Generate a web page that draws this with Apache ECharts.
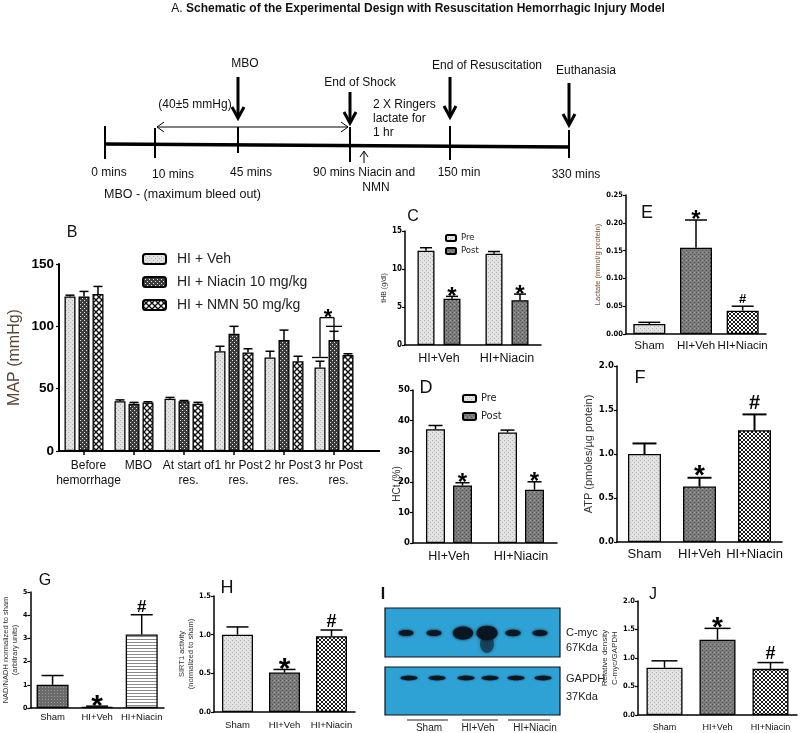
<!DOCTYPE html>
<html><head><meta charset="utf-8">
<script src="https://cdn.jsdelivr.net/npm/echarts@6/dist/echarts.min.js"></script>
<style>html,body{margin:0;padding:0;background:#fff}#c{width:800px;height:733px}</style>
</head><body><div id="c"></div>
<script>
// ---------------- DATA ----------------
const bCategories = ['Before\nhemorrhage', 'MBO', 'At start of\nres.', '1 hr Post\nres.', '2 hr Post\nres.', '3 hr Post\nres.'];
const bSeriesNames = ['HI + Veh', 'HI + Niacin 10 mg/kg', 'HI + NMN 50 mg/kg'];
const bVeh = [124, 40, 42, 80, 75, 67];
const bVehErr = [1, 1, 1, 4, 5, 5];
const bNiacin = [124, 38, 40, 94, 89, 89];
const bNiacinErr = [4, 1, 0.5, 6, 8, 7];
const bNmn = [126, 39, 38, 79, 72, 77];
const bNmnErr = [6, 0.5, 1, 3, 4, 1];
const bBracket = { category: 5, fromSeries: 0, toSeries: 1, leftFoot: 75, top: 107, rightFoot: 100, rightEnd: 96, mark: '*' };

const cdCategories = ['HI+Veh', 'HI+Niacin'];
const cdSeriesNames = ['Pre', 'Post'];
const cPre = [12.4, 12.0];
const cPreErr = [0.4, 0.3];
const cPost = [6.1, 5.9];
const cPostErr = [0.3, 0.8];
const cPostMarks = ['*', '*'];
const dPre = [37.2, 36.1];
const dPreErr = [1.2, 0.8];
const dPost = [18.8, 17.4];
const dPostErr = [0.9, 2.6];
const dPostMarks = ['*', '*'];

const groupCategories = ['Sham', 'HI+Veh', 'HI+Niacin'];
const eLactate = [0.018, 0.155, 0.042];
const eLactateErr = [0.003, 0.05, 0.008];
const eMarks = ['', '*', '#'];
const fAtp = [1.0, 0.63, 1.27];
const fAtpErr = [0.12, 0.10, 0.18];
const fMarks = ['', '*', '#'];
const gNad = [1.0, 0.05, 3.17];
const gNadErr = [0.4, 0.03, 0.85];
const gMarks = ['', '*', '#'];
const hSirt = [1.0, 0.51, 0.98];
const hSirtErr = [0.1, 0.04, 0.08];
const hMarks = ['', '*', '#'];
const jDensity = [0.83, 1.32, 0.81];
const jDensityErr = [0.12, 0.2, 0.11];
const jMarks = ['', '*', '#'];

const blotLanes = ['Sham', 'Sham', 'HI+Veh', 'HI+Veh', 'HI+Niacin', 'HI+Niacin'];
const cmycIntensity = [1, 1, 2.2, 2.4, 1.05, 1];
const gapdhIntensity = [1, 1, 1, 1, 1, 1];

const timelineLabels = ['0 mins', '10 mins', '45 mins', '90 mins Niacin and', '150 min', '330 mins'];

// ---------------- STYLE HELPERS ----------------
const SANS = "'Liberation Sans', Arial, sans-serif";
const NARROW = "'Liberation Sans Narrow', 'DejaVu Sans Condensed', 'Liberation Sans', sans-serif";

function pat(size, bg, draw) {
  const c = document.createElement('canvas');
  c.width = c.height = size;
  const x = c.getContext('2d');
  x.fillStyle = bg; x.fillRect(0, 0, size, size);
  draw(x);
  return { image: c, repeat: 'repeat' };
}
const P = {
  light: pat(4, '#e2e2e2', x => { x.fillStyle = '#b4b4b4'; x.fillRect(0, 0, 1, 1); x.fillRect(2, 2, 1, 1); }),
  dark: pat(4, '#7c7c7c', x => { x.fillStyle = '#555'; x.fillRect(0, 0, 1, 1); x.fillRect(2, 2, 1, 1); x.fillStyle = '#a0a0a0'; x.fillRect(2, 0, 1, 1); }),
  checker: pat(4, '#3c3c3c', x => { x.fillStyle = '#e6e6e6'; x.fillRect(0, 0, 1, 1); x.fillRect(2, 2, 1, 1); }),
  cross: pat(6, '#ffffff', x => { x.strokeStyle = '#111'; x.lineWidth = 1.4; x.beginPath(); x.moveTo(-1, -1); x.lineTo(7, 7); x.moveTo(7, -1); x.lineTo(-1, 7); x.stroke(); }),
  fine: pat(4, '#ffffff', x => { x.strokeStyle = '#1a1a1a'; x.lineWidth = 1; x.beginPath(); x.moveTo(-1, -1); x.lineTo(5, 5); x.moveTo(5, -1); x.lineTo(-1, 5); x.stroke(); }),
  hstripe: pat(3, '#ffffff', x => { x.fillStyle = '#8a8a8a'; x.fillRect(0, 0, 3, 1); }),
  gdark: pat(3, '#6a6a6a', x => { x.fillStyle = '#9a9a9a'; x.fillRect(0, 0, 1, 1); })
};

const grids = [], xAxes = [], yAxes = [], series = [];

function addPanel(p) {
  const gi = grids.length;
  grids.push({ left: p.left, top: p.top, width: p.width, height: p.height });
  xAxes.push({
    type: 'category', gridIndex: gi, data: p.cats,
    axisLine: { lineStyle: { color: '#000', width: p.axisW || 1.5 } },
    axisTick: { show: !!p.xTick, alignWithLabel: true, interval: 0, length: 4, lineStyle: { color: '#000', width: 1.5 } },
    axisLabel: { interval: 0, fontSize: p.xFont, fontFamily: SANS, color: '#111', margin: p.xMargin, lineHeight: p.xLH || p.xFont + 2, padding: p.xPad || 0 }
  });
  yAxes.push({
    type: 'value', gridIndex: gi, min: p.min, max: p.max, interval: p.interval,
    axisLine: { show: true, lineStyle: { color: '#000', width: p.axisW || 1.5 } },
    axisTick: { show: true, length: 3, lineStyle: { color: '#000', width: 1.2 } },
    splitLine: { show: false },
    axisLabel: { fontSize: p.yFont, fontFamily: p.yFam || NARROW, fontWeight: 'bold', color: '#000', margin: p.yMargin || 3, formatter: p.fmt },
    name: p.yName, nameLocation: 'middle', nameRotate: 90, nameGap: p.nameGap,
    nameTextStyle: { fontSize: p.nameSize, fontFamily: SANS, color: p.nameColor || '#333', lineHeight: p.nameSize + 1.5 }
  });
  const n = p.series.length;
  p.series.forEach((s, si) => {
    series.push({
      type: 'bar', name: s.name, xAxisIndex: gi, yAxisIndex: gi,
      data: s.values.map((v, i) => s.colors ? { value: v, itemStyle: { color: s.colors[i] } } : v),
      barWidth: p.barW, barGap: (p.gap / p.barW * 100) + '%',
      itemStyle: { color: s.color || '#ccc', borderColor: '#000', borderWidth: p.borderW || 1.3 },
      z: 2
    });
    const off = (si - (n - 1) / 2) * (p.barW + p.gap);
    const marks = s.marks || [];
    series.push({
      type: 'custom', name: s.name + ' err', xAxisIndex: gi, yAxisIndex: gi, z: 5, clip: false,
      data: s.values.map((v, i) => [i, v, s.errs[i]]),
      renderItem: (params, api) => {
        const i = api.value(0), v = api.value(1), e = api.value(2);
        const base = api.coord([i, v]), top = api.coord([i, v + e]);
        const x = base[0] + off;
        const cw = p.capW;
        const lw = p.errW || 1.5;
        const ch = [
          { type: 'line', shape: { x1: x, y1: base[1], x2: x, y2: top[1] }, style: { stroke: '#000', lineWidth: lw } },
          { type: 'line', shape: { x1: x - cw / 2, y1: top[1], x2: x + cw / 2, y2: top[1] }, style: { stroke: '#000', lineWidth: lw } }
        ];
        const m = marks[params.dataIndex];
        if (m) {
          const sz = m === '*' ? p.starSize : p.hashSize;
          ch.push({ type: 'text', style: { text: m, x: x, y: top[1] - (p.markGap || 3) + (m === '*' ? 0.62 : 0.22) * sz, align: 'center', verticalAlign: 'bottom', font: 'bold ' + sz + 'px ' + SANS, fill: '#000' } });
        }
        return { type: 'group', children: ch };
      }
    });
  });
  return gi;
}

// ---------- Panel B ----------
const gB = addPanel({
  left: 59, top: 264, width: 300, height: 187, cats: bCategories, xTick: true, xFont: 12, xMargin: 7, xLH: 15, xPad: [0, 0, 0, 9],
  min: 0, max: 150, interval: 50, yFont: 13.5, yFam: SANS, yMargin: 5, axisW: 2,
  yName: 'MAP (mmHg)', nameGap: 36, nameSize: 16, nameColor: '#5c4536',
  barW: 11, gap: 3, capW: 9, starSize: 22, hashSize: 18,
  series: [
    { name: bSeriesNames[0], values: bVeh, errs: bVehErr, color: P.light },
    { name: bSeriesNames[1], values: bNiacin, errs: bNiacinErr, color: P.checker },
    { name: bSeriesNames[2], values: bNmn, errs: bNmnErr, color: P.cross }
  ]
});
// significance bracket
series.push({
  type: 'custom', xAxisIndex: gB, yAxisIndex: gB, z: 6, clip: false,
  data: [[bBracket.category, bBracket.leftFoot, bBracket.top, bBracket.rightFoot, bBracket.rightEnd]],
  renderItem: (params, api) => {
    const c = api.value(0);
    const step = 11 + 3;
    const xc = api.coord([c, 0])[0];
    const xL = xc + (bBracket.fromSeries - 1) * step, xR = xc + (bBracket.toSeries - 1) * step;
    const yF = api.coord([c, api.value(1)])[1], yT = api.coord([c, api.value(2)])[1];
    const yRF = api.coord([c, api.value(3)])[1], yRE = api.coord([c, api.value(4)])[1];
    const st = { stroke: '#000', lineWidth: 1.3 };
    return { type: 'group', children: [
      { type: 'line', shape: { x1: xL - 8, y1: yF, x2: xL + 8, y2: yF }, style: st },
      { type: 'line', shape: { x1: xL, y1: yF, x2: xL, y2: yT }, style: st },
      { type: 'line', shape: { x1: xL, y1: yT, x2: xR, y2: yT }, style: st },
      { type: 'line', shape: { x1: xR, y1: yT, x2: xR, y2: yRE }, style: st },
      { type: 'line', shape: { x1: xR - 8, y1: yRF, x2: xR + 8, y2: yRF }, style: st },
      { type: 'text', style: { text: bBracket.mark, x: (xL + xR) / 2 + 1, y: yT - 2 + 0.62 * 22, align: 'center', verticalAlign: 'bottom', font: 'bold 22px ' + SANS, fill: '#000' } }
    ] };
  }
});

// ---------- Panel C ----------
addPanel({
  left: 405, top: 231, width: 136, height: 114, cats: cdCategories, xFont: 12.5, xMargin: 6,
  min: 0, max: 15, interval: 5, yFont: 8,
  yName: 'tHB (g/dl)', nameGap: 14, nameSize: 7,
  barW: 17, gap: 9, capW: 12, starSize: 24, hashSize: 16, markGap: 2,
  series: [
    { name: 'Pre', values: cPre, errs: cPreErr, color: P.light },
    { name: 'Post', values: cPost, errs: cPostErr, color: P.dark, marks: cPostMarks }
  ]
});

// ---------- Panel D ----------
addPanel({
  left: 413, top: 390, width: 144, height: 153, cats: cdCategories, xFont: 12.5, xMargin: 6,
  min: 0, max: 50, interval: 10, yFont: 9.5,
  yName: '', nameGap: 10, nameSize: 10,
  barW: 19, gap: 8, capW: 14, starSize: 24, hashSize: 16, markGap: 2,
  series: [
    { name: 'Pre', values: dPre, errs: dPreErr, color: P.light },
    { name: 'Post', values: dPost, errs: dPostErr, color: P.dark, marks: dPostMarks }
  ]
});

// ---------- Panel E ----------
addPanel({
  left: 626, top: 195, width: 140, height: 139, cats: groupCategories, xFont: 11.5, xMargin: 5,
  min: 0, max: 0.25, interval: 0.05, yFont: 7.5, fmt: v => v.toFixed(2),
  yName: 'Lactate (mmol/g protein)', nameGap: 14, nameSize: 7.5, nameColor: '#7b4b3a',
  barW: 32, gap: 0, capW: 22, starSize: 24, hashSize: 13, markGap: 3,
  series: [{ name: 'Lactate', values: eLactate, errs: eLactateErr, marks: eMarks, colors: [P.light, P.dark, P.fine] }]
});

// ---------- Panel F ----------
addPanel({
  left: 617, top: 366, width: 165, height: 176, cats: groupCategories, xFont: 13, xMargin: 5,
  min: 0, max: 2, interval: 0.5, yFont: 9.5, fmt: v => v.toFixed(1),
  yName: 'ATP (pmoles/\u00b5g protein)', nameGap: 13, nameSize: 11,
  barW: 33, gap: 0, capW: 24, starSize: 28, hashSize: 20, markGap: 5, errW: 2,
  series: [{ name: 'ATP', values: fAtp, errs: fAtpErr, marks: fMarks, colors: [P.light, P.dark, P.fine] }]
});

// ---------- Panel G ----------
addPanel({
  left: 26, top: 592, width: 138, height: 116, cats: groupCategories, xFont: 9.5, xMargin: 4,
  min: 0, max: 5, interval: 1, yFont: 7,
  yName: 'NAD/NADH normalized to sham\n(arbitrary units)', nameGap: 7, nameSize: 7.5,
  barW: 32, gap: 0, capW: 22, starSize: 30, hashSize: 17, markGap: 3,
  series: [{ name: 'NAD', values: gNad, errs: gNadErr, marks: gMarks, colors: [P.gdark, P.dark, P.hstripe] }]
});

// ---------- Panel H ----------
addPanel({
  left: 214, top: 596, width: 141, height: 116, cats: groupCategories, xFont: 9.5, xMargin: 8,
  min: 0, max: 1.5, interval: 0.5, yFont: 7.5, fmt: v => v.toFixed(1),
  yName: 'SIRT1 activity\n(normalized to sham)', nameGap: 7, nameSize: 7.5,
  barW: 31, gap: 0, capW: 22, starSize: 30, hashSize: 18, markGap: 3,
  series: [{ name: 'SIRT1', values: hSirt, errs: hSirtErr, marks: hMarks, colors: [P.light, P.dark, P.fine] }]
});

// ---------- Panel J ----------
addPanel({
  left: 638, top: 601, width: 159, height: 114, cats: groupCategories, xFont: 9, xMargin: 7,
  min: 0, max: 2, interval: 0.5, yFont: 7.5, fmt: v => v.toFixed(1),
  yName: 'Relative density\nC-myc/GAPDH', nameGap: 16, nameSize: 8,
  barW: 36, gap: 0, capW: 26, starSize: 28, hashSize: 18, markGap: 3,
  series: [{ name: 'Density', values: jDensity, errs: jDensityErr, marks: jMarks, colors: [P.light, P.dark, P.fine] }]
});

// ---------------- GRAPHIC (schematic, blot, letters) ----------------
const G = [];
function txt(t, x, y, size, opt) {
  opt = opt || {};
  G.push({ type: 'text', silent: true, style: { text: t, x: x, y: y, font: (opt.bold ? 'bold ' : '') + size + 'px ' + (opt.fam || SANS), fill: opt.color || '#111', align: opt.align || 'center', verticalAlign: 'middle' } });
}
function ln(x1, y1, x2, y2, w, c) {
  G.push({ type: 'line', silent: true, shape: { x1, y1, x2, y2 }, style: { stroke: c || '#000', lineWidth: w } });
}
function pl(pts, w) {
  G.push({ type: 'polyline', silent: true, shape: { points: pts }, style: { stroke: '#000', lineWidth: w, fill: null } });
}
// title
G.push({ type: 'text', silent: true, style: { text: '{a|A. }{b|Schematic of the Experimental Design with Resuscitation Hemorrhagic Injury Model}', x: 418, y: 9, align: 'center', verticalAlign: 'middle',
  rich: { a: { font: '12px ' + SANS, fill: '#111' }, b: { font: 'bold 12px ' + SANS, fill: '#111' } } } });
// timeline
const tlX = [105, 155, 238, 350, 450, 569];
ln(105, 144, 569, 147, 3.5);
const tickTop = [126, 128, 127, 127, 126, 130], tickBot = [159, 158, 153, 162, 160, 158];
tlX.forEach((x, i) => ln(x, tickTop[i], x, tickBot[i], 2));
// double arrow
ln(157, 127, 348, 127, 1);
pl([[164, 122], [157, 127], [164, 132]], 1);
pl([[341, 122], [348, 127], [341, 132]], 1);
// big arrows
[[238, 77, 118], [350, 92, 123], [450, 77, 117], [569, 83, 125]].forEach(a => {
  ln(a[0], a[1], a[0], a[2] - 1, 3);
  pl([[a[0] - 6, a[2] - 11], [a[0], a[2]], [a[0] + 6, a[2] - 11]], 3);
});
// small up arrow
ln(364, 163, 364, 152, 1);
pl([[360, 157], [364, 151], [368, 157]], 1);
// labels
txt('MBO', 245, 64, 12);
txt('End of Shock', 360, 83, 12);
txt('End of Resuscitation', 487, 66, 12);
txt('Euthanasia', 586, 71, 12);
txt('(40\u00b15 mmHg)', 195, 105, 12);
txt('2 X Ringers', 373, 105, 12, { align: 'left' });
txt('lactate for', 373, 119, 12, { align: 'left' });
txt('1 hr', 373, 133, 12, { align: 'left' });
txt(timelineLabels[0], 109, 173, 12);
txt(timelineLabels[1], 173, 175, 12);
txt(timelineLabels[2], 251, 173, 12);
txt(timelineLabels[3], 313, 173, 12, { align: 'left' });
txt('NMN', 376, 188, 12);
txt(timelineLabels[4], 459, 173, 12);
txt(timelineLabels[5], 576, 175, 12);
txt('MBO - (maximum bleed out)', 104, 195, 12.5, { align: 'left' });

// panel letters
txt('B', 72, 233, 16);
txt('C', 413, 217, 16);
txt('D', 426, 388, 18);
txt('E', 647, 213, 18);
txt('F', 640, 378, 18);
txt('G', 45, 581, 16);
txt('H', 227, 588, 18);
txt('I', 383, 595, 16, { bold: true });
txt('J', 653, 595, 16);
// D y-axis name
G.push({ type: 'text', silent: true, rotation: Math.PI / 2, x: 397, y: 484, style: { text: 'HCt (%)', x: 0, y: 0, font: '10px ' + SANS, fill: '#333', align: 'center', verticalAlign: 'middle' } });
// B x-axis line extension (GraphPad style axis runs past last group)
ln(359, 451, 380, 451, 2);

// Western blot
G.push({ type: 'rect', silent: true, shape: { x: 385, y: 608, width: 175, height: 49 }, style: { fill: '#2fa2d5', stroke: '#111', lineWidth: 1.2 } });
G.push({ type: 'rect', silent: true, shape: { x: 385, y: 667, width: 175, height: 48 }, style: { fill: '#2fa2d5', stroke: '#111', lineWidth: 1.2 } });
const laneX = [406, 434, 463, 487, 513, 540];
cmycIntensity.forEach((k, i) => {
  G.push({ type: 'ellipse', silent: true, shape: { cx: laneX[i], cy: 633, rx: 7.5 + (k - 1) * 2.2, ry: 3 * k }, style: { fill: '#0c1620', shadowBlur: 3, shadowColor: '#0c1620' } });
});
G.push({ type: 'ellipse', silent: true, shape: { cx: laneX[3], cy: 644, rx: 7, ry: 9 }, style: { fill: 'rgba(12,22,32,0.55)', shadowBlur: 4, shadowColor: 'rgba(12,22,32,0.6)' } });
gapdhIntensity.forEach((k, i) => {
  G.push({ type: 'ellipse', silent: true, shape: { cx: laneX[i] + 3, cy: 678, rx: 8.5 * k, ry: 2.2 * k }, style: { fill: '#0c1620', shadowBlur: 2, shadowColor: '#0c1620' } });
});
txt('C-myc', 566, 633, 11, { align: 'left', color: '#222' });
txt('67Kda', 566, 648, 11, { align: 'left', color: '#222' });
txt('GAPDH', 566, 679, 11, { align: 'left', color: '#222' });
txt('37Kda', 566, 697, 11, { align: 'left', color: '#222' });
[[407, 448], [462, 498], [508, 550]].forEach((s, i) => {
  ln(s[0], 720, s[1], 720, 1.2, '#222');
});
txt(groupCategories[0], 429, 728, 10, { color: '#222' });
txt(groupCategories[1], 478, 728, 10, { color: '#222' });
txt(groupCategories[2], 535, 728, 10, { color: '#222' });

// ---------------- OPTION ----------------
const option = {
  backgroundColor: '#fff',
  animation: false,
  grid: grids, xAxis: xAxes, yAxis: yAxes, series: series,
  legend: [
    { orient: 'vertical', left: 142, top: 252, padding: 0, itemWidth: 23, itemHeight: 10, itemGap: 9, selectedMode: false, data: bSeriesNames,
      textStyle: { fontSize: 14, fontFamily: SANS, color: '#222', padding: [0, 0, 0, 6] } },
    { orient: 'vertical', left: 445, top: 233, padding: 0, itemWidth: 10, itemHeight: 6, itemGap: 3, selectedMode: false, data: cdSeriesNames,
      textStyle: { fontSize: 9.5, fontFamily: NARROW, color: '#222' } },
    { orient: 'vertical', left: 462, top: 393, padding: 0, itemWidth: 13, itemHeight: 7, itemGap: 7, selectedMode: false, data: cdSeriesNames,
      textStyle: { fontSize: 11, fontFamily: NARROW, color: '#222' } }
  ],
  graphic: G
};
const chart = echarts.init(document.getElementById('c'), null, { renderer: 'canvas' });
chart.setOption(option);
</script>
</body></html>
